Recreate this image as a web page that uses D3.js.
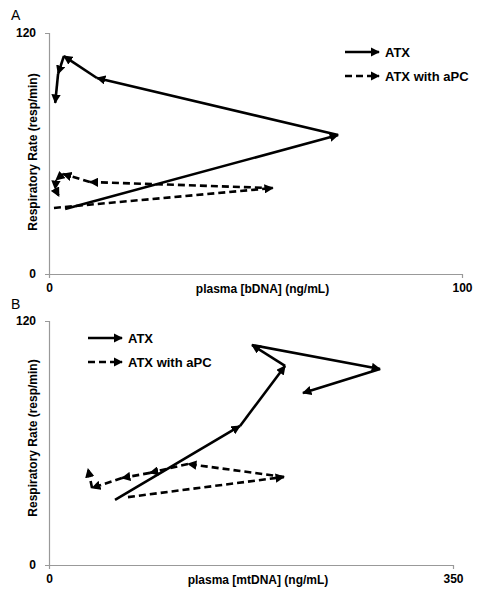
<!DOCTYPE html>
<html><head><meta charset="utf-8">
<script src="https://cdn.jsdelivr.net/npm/d3@7/dist/d3.min.js"></script>
<style>body{margin:0;background:#fff}svg{display:block}text{font-family:"Liberation Sans",Arial,sans-serif}</style>
</head><body>
<script>
// Panel A: plasma bDNA (ng/mL) vs respiratory rate
const atxA_x = [3.9, 70.0, 11.6, 3.6, 2.2, 1.5];
const atxA_y = [32.4, 69.2, 97.6, 108.5, 99.6, 85.2];
const apcA_x = [1.2, 54.2, 9.9, 3.4, 1.7, 1.5, 2.4];
const apcA_y = [32.9, 42.8, 45.8, 49.8, 46.8, 42.3, 38.8];
// Panel B: plasma mtDNA (ng/mL) vs respiratory rate
const atxB_x = [57.2, 165.5, 204.5, 175.9, 286.8, 220.0];
const atxB_y = [32.0, 68.4, 97.9, 108.2, 96.4, 84.6];
const apcB_x = [68.4, 203.6, 120.4, 87.5, 63.2, 37.3, 33.8];
const apcB_y = [33.4, 43.3, 49.7, 45.3, 42.8, 37.9, 47.2];
const seriesNames = ["ATX", "ATX with aPC"];
const xTicksA = [0, 100], xTicksB = [0, 350], yTicks = [0, 120];
const xTitleA = "plasma [bDNA] (ng/mL)", xTitleB = "plasma [mtDNA] (ng/mL)";
const yTitle = "Respiratory Rate (resp/min)";

const svg = d3.select("body").append("svg").attr("width", 497).attr("height", 600);
const defs = svg.append("defs");
defs.append("marker").attr("id", "arr").attr("viewBox", "0 0 10 10")
  .attr("refX", 9).attr("refY", 5).attr("markerWidth", 3.6).attr("markerHeight", 3.6)
  .attr("markerUnits", "strokeWidth").attr("orient", "auto")
  .append("path").attr("d", "M0,0 L10,5 L0,10 Z").attr("fill", "#000");

function panel(cfg) {
  const x = d3.scaleLinear().domain(cfg.xdom).range(cfg.xr);
  const y = d3.scaleLinear().domain([0, 120]).range(cfg.yr);
  const g = svg.append("g");
  // axes
  const xa = g.append("g").attr("transform", `translate(0,${cfg.yr[0]})`)
    .call(d3.axisBottom(x).tickValues(cfg.xticks).tickSize(4).tickPadding(5).tickFormat(d3.format("d")));
  const ya = g.append("g").attr("transform", `translate(${cfg.xr[0]},0)`)
    .call(d3.axisLeft(y).tickValues(yTicks).tickSize(4).tickPadding(9).tickFormat(d3.format("d")));
  [xa, ya].forEach(a => {
    a.select(".domain").attr("stroke", "#999").attr("stroke-width", 1.2);
    a.selectAll(".tick line").attr("stroke", "#999");
    a.selectAll(".tick text").attr("font-size", 12).attr("font-weight", "bold").attr("fill", "#000")
      .attr("font-family", '"Liberation Sans",Arial,sans-serif');
  });
  g.append("text").attr("x", (cfg.xr[0] + cfg.xr[1]) / 2 + 7).attr("y", cfg.yr[0] + 19)
    .attr("text-anchor", "middle").attr("font-size", 12).attr("font-weight", "bold").text(cfg.xtitle);
  g.append("text").attr("transform", `translate(37,${cfg.ycenter}) rotate(-90)`)
    .attr("text-anchor", "middle").attr("font-size", 12).attr("font-weight", "bold").text(yTitle);
  g.append("text").attr("x", 11).attr("y", cfg.labelY).attr("font-size", 14).text(cfg.label);
  // series, each step drawn as an arrow
  const draw = (xs, ys, dashed) => {
    const pts = xs.map((v, i) => [x(v), y(ys[i])]);
    for (let i = 0; i < pts.length - 1; i++) {
      g.append("line").attr("x1", pts[i][0]).attr("y1", pts[i][1])
        .attr("x2", pts[i + 1][0]).attr("y2", pts[i + 1][1])
        .attr("stroke", "#000").attr("stroke-width", 2.6)
        .attr("stroke-dasharray", dashed ? "7,4" : null)
        .attr("marker-end", "url(#arr)");
    }
  };
  draw(cfg.ax, cfg.ay, false);
  draw(cfg.bx, cfg.by, true);
  // legend
  seriesNames.forEach((n, i) => {
    const ly = cfg.legY + i * 24;
    g.append("line").attr("x1", cfg.legX).attr("x2", cfg.legX + 34).attr("y1", ly).attr("y2", ly)
      .attr("stroke", "#000").attr("stroke-width", 2.6)
      .attr("stroke-dasharray", i ? "7,4" : null).attr("marker-end", "url(#arr)");
    g.append("text").attr("x", cfg.legX + 40).attr("y", ly + 5).attr("font-size", 13)
      .attr("font-weight", "bold").text(n);
  });
}

panel({xdom: [0, 100], xr: [49, 462], yr: [274, 33], xticks: xTicksA, xtitle: xTitleA,
  ycenter: 152, label: "A", labelY: 20, ax: atxA_x, ay: atxA_y, bx: apcA_x, by: apcA_y,
  legX: 345, legY: 52});
panel({xdom: [0, 350], xr: [49, 453], yr: [565, 321], xticks: xTicksB, xtitle: xTitleB,
  ycenter: 438, label: "B", labelY: 309, ax: atxB_x, ay: atxB_y, bx: apcB_x, by: apcB_y,
  legX: 88, legY: 338});
</script>
</body></html>
